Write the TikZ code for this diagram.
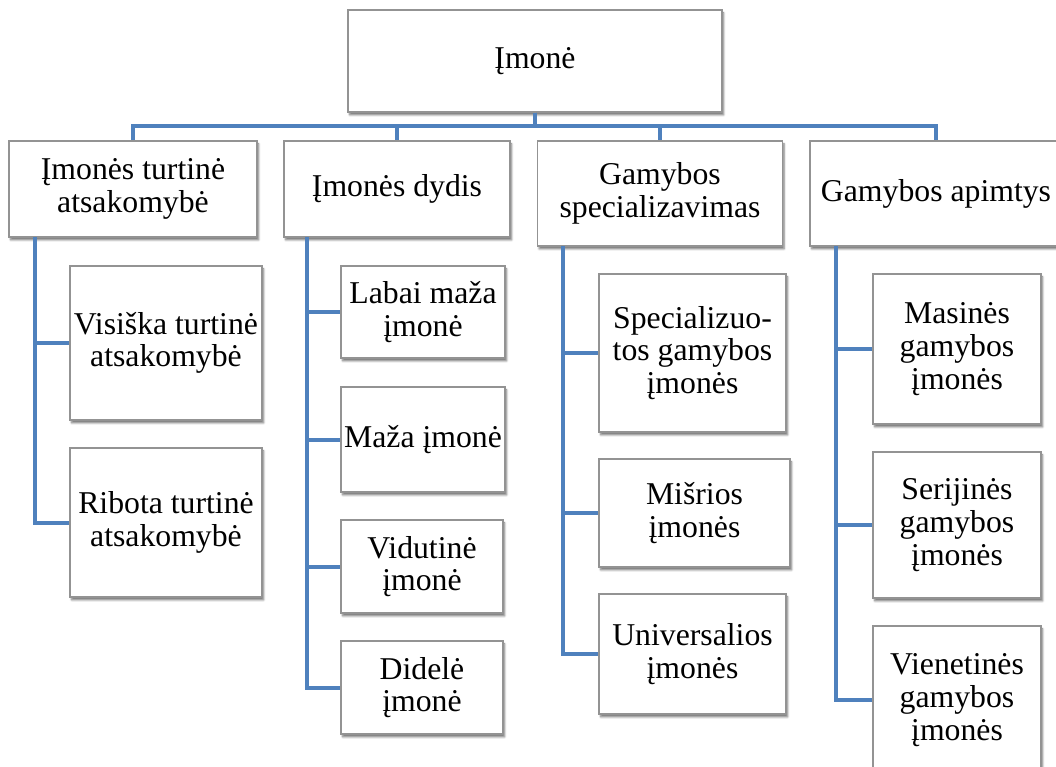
\documentclass[tikz,border=0pt]{standalone}
\usepackage{fontspec}
\setmainfont{Liberation Serif}
\usetikzlibrary{shadows.blur}
\definecolor{linkblue}{RGB}{79,129,189}
\tikzstyle{box} = [rectangle, draw=gray!85, line width=0.8pt, fill=white, align=center, inner sep=0pt, font=\fontsize{23.8}{24.5}\selectfont, blur shadow={shadow xshift=1.2pt, shadow yshift=-2.2pt, shadow blur steps=5, shadow blur radius=1.5pt, shadow opacity=55}]
\tikzstyle{link} = [linkblue, line width=3pt]

\begin{document}
\begin{tikzpicture}[x=0.75pt, y=-0.75pt]
			\useasboundingbox (0,0) rectangle (1056,767);
			% Nodes
			\node (imone) [box, minimum width=280.5pt, minimum height=76.5pt] at (535,61) {Įmonė};
			\node (turtine) [box, minimum width=186pt, minimum height=72pt] at (133,189) {Įmonės turtinė\\atsakomybė};
			\node (dydis) [box, minimum width=169.5pt, minimum height=72pt] at (397,189) {Įmonės dydis};
			\node (specializ) [box, minimum width=183.75pt, minimum height=78.75pt] at (660,193.5) {Gamybos\\specializavimas};
			\node (apimtys) [box, minimum width=189pt, minimum height=78.75pt] at (936,193.5) {Gamybos apimtys};
			\node (visiska) [box, minimum width=144pt, minimum height=115.5pt] at (166,343) {Visiška turtinė\\atsakomybė};
			\node (ribota) [box, minimum width=144pt, minimum height=111.75pt] at (166,522.5) {Ribota turtinė\\atsakomybė};
			\node (labaimaza) [box, minimum width=123pt, minimum height=69pt] at (423,312) {Labai maža\\įmonė};
			\node (maza) [box, minimum width=123pt, minimum height=78.75pt] at (423,439.5) {Maža įmonė};
			\node (vidutine) [box, minimum width=121.5pt, minimum height=69.75pt] at (422,566.5) {Vidutinė\\įmonė};
			\node (didele) [box, minimum width=121.5pt, minimum height=69.75pt] at (422,687.5) {Didelė\\įmonė};
			\node (specializuotos) [box, minimum width=140.25pt, minimum height=118.5pt] at (692.5,353) {Specializuo-\\tos gamybos\\įmonės};
			\node (misrios) [box, minimum width=143.25pt, minimum height=81pt] at (694.5,513) {Mišrios\\įmonės};
			\node (universalios) [box, minimum width=140.25pt, minimum height=90pt] at (692.5,654) {Universalios\\įmonės};
			\node (masines) [box, minimum width=126pt, minimum height=112.5pt] at (957,349) {Masinės\\gamybos\\įmonės};
			\node (serijines) [box, minimum width=126pt, minimum height=109.5pt] at (957,525) {Serijinės\\gamybos\\įmonės};
			\node (vienetines) [box, minimum width=126pt, minimum height=111pt] at (957,700) {Vienetinės\\gamybos\\įmonės};
			% Trunks
			\coordinate (trunkA) at (35,237);
			\coordinate (trunkB) at (307,237);
			\coordinate (trunkC) at (563,246);
			\coordinate (trunkD) at (836,246);
			% Lines
			\draw [link] (imone.south) -- ++(0,13) -| (turtine.north);
			\draw [link] (imone.south) -- ++(0,13) -| (dydis.north);
			\draw [link] (imone.south) -- ++(0,13) -| (specializ.north);
			\draw [link] (imone.south) -- ++(0,13) -| (apimtys.north);
			\draw [link] (trunkA) |- (visiska.west);
			\draw [link] (trunkA) |- (ribota.west);
			\draw [link] (trunkB) |- (labaimaza.west);
			\draw [link] (trunkB) |- (maza.west);
			\draw [link] (trunkB) |- (vidutine.west);
			\draw [link] (trunkB) |- (didele.west);
			\draw [link] (trunkC) |- (specializuotos.west);
			\draw [link] (trunkC) |- (misrios.west);
			\draw [link] (trunkC) |- (universalios.west);
			\draw [link] (trunkD) |- (masines.west);
			\draw [link] (trunkD) |- (serijines.west);
			\draw [link] (trunkD) |- (vienetines.west);
		\end{tikzpicture}
\end{document}
